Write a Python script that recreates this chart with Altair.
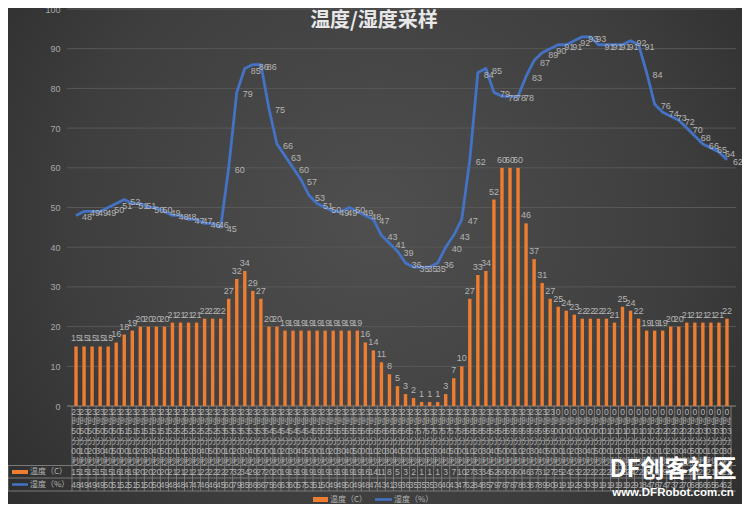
import altair as alt
import pandas as pd

time_labels = [
    "23时50分00秒", "23时50分10秒", "23时50分20秒", "23时50分30秒", "23时50分40秒", "23时50分50秒",
    "23时51分00秒", "23时51分10秒", "23时51分20秒", "23时51分30秒", "23时51分40秒", "23时51分50秒",
    "23时52分00秒", "23时52分10秒", "23时52分20秒", "23时52分30秒", "23时52分40秒", "23时52分50秒",
    "23时53分00秒", "23时53分10秒", "23时53分20秒", "23时53分30秒", "23时53分40秒", "23时53分50秒",
    "23时54分00秒", "23时54分10秒", "23时54分20秒", "23时54分30秒", "23时54分40秒", "23时54分50秒",
    "23时55分00秒", "23时55分10秒", "23时55分20秒", "23时55分30秒", "23时55分40秒", "23时55分50秒",
    "23时56分00秒", "23时56分10秒", "23时56分20秒", "23时56分30秒", "23时56分40秒", "23时56分50秒",
    "23时57分00秒", "23时57分10秒", "23时57分20秒", "23时57分30秒", "23时57分40秒", "23时57分50秒",
    "23时58分00秒", "23时58分10秒", "23时58分20秒", "23时58分30秒", "23时58分40秒", "23时58分50秒",
    "23时59分00秒", "23时59分10秒", "23时59分20秒", "23时59分30秒", "23时59分40秒", "23时59分50秒",
    "0时00分00秒", "0时00分10秒", "0时00分20秒", "0时00分30秒", "0时00分40秒", "0时00分50秒",
    "0时01分00秒", "0时01分10秒", "0时01分20秒", "0时01分30秒", "0时01分40秒", "0时01分50秒",
    "0时02分00秒", "0时02分10秒", "0时02分20秒", "0时02分30秒", "0时02分40秒", "0时02分50秒",
    "0时03分00秒", "0时03分10秒", "0时03分20秒", "0时03分30秒",
]

temperature = [15, 15, 15, 15, 15, 16, 18, 19, 20, 20, 20, 20, 21, 21, 21, 21, 22, 22, 22,
               27, 32, 34, 29, 27, 20, 20, 19, 19, 19, 19, 19, 19, 19, 19, 19, 19,
               16, 14, 11, 8, 5, 3, 2, 1, 1, 1, 3, 7, 10, 27, 33, 34, 52, 60, 60, 60,
               46, 37, 31, 27, 25, 24, 23, 22, 22, 22, 22, 21, 25, 24, 22, 19, 19, 19,
               20, 20, 21, 21, 21, 21, 21, 22]

humidity = [48, 49, 49, 49, 50, 51, 52, 51, 51, 50, 50, 49, 48, 48, 47, 47, 46, 46, 45,
            60, 79, 85, 86, 86, 75, 66, 63, 60, 57, 53, 51, 50, 49, 49, 50, 49, 48, 47,
            43, 41, 39, 36, 35, 35, 35, 36, 40, 43, 47,
            62, 84, 85, 79, 78, 78, 78, 83, 87, 89, 90, 91, 91, 92, 93, 93, 91, 91, 91,
            91, 92, 91, 84, 76, 74, 73, 72, 70, 68, 66, 65, 64, 62]

y_ticks = [0, 10, 20, 30, 40, 50, 60, 70, 80, 90, 100]
series_names = ["温度（C）", "湿度（%）"]
chart_title = "温度/湿度采样"

ORANGE = "#ED7D31"
BLUE = "#4472C4"
LABEL = "#b4b4b4"
GRID = "#585858"
TABLE = "#7a7a7a"

W, H = 669, 397
PL, PT, PR, PB = 59, 1, 6, 98
FONT = "Liberation Sans Narrow, Liberation Sans, Noto Sans CJK SC"
CJK = "Noto Sans CJK SC"

n = len(time_labels)
df = pd.DataFrame({
    "i": list(range(n)),
    "t": time_labels,
    "temp": temperature,
    "hum": humidity,
})


def split_label(s):
    h, rest = s.split("时")
    m, rest = rest.split("分")
    sec = rest.replace("秒", "")
    return "\n".join([h, "时", m, "分", sec, "秒"])


df["tt"] = df["t"].map(split_label)

edges = pd.DataFrame({"e": [k - 0.5 for k in range(n + 1)]})
grid_df = pd.DataFrame({"v": y_ticks})
one = pd.DataFrame({"k": [0]})

xsc = alt.Scale(domain=[-0.5, n - 0.5], nice=False, zero=False)
ysc = alt.Scale(domain=[0, 100], nice=False)
yax = alt.Axis(values=y_ticks, grid=False, domain=False, ticks=False, title=None,
               labelColor="#a8a8a8", labelFontSize=9, labelPadding=7, zindex=1,
               labelFont="Liberation Sans")
X = lambda f: alt.X(f, scale=xsc, axis=None)
Y = lambda f: alt.Y(f, scale=ysc, axis=yax)

bg = alt.Chart(one).mark_rect(
    fill=alt.Gradient(
        gradient="radial",
        stops=[alt.GradientStop(color="#4f4f4f", offset=0),
               alt.GradientStop(color="#3e3e3e", offset=0.55),
               alt.GradientStop(color="#262626", offset=1)],
        x1=0.5, y1=0.45, x2=0.5, y2=0.45, r1=0, r2=0.75),
).encode(x=alt.value(-PL), x2=alt.value(W + PR), y=alt.value(-PT), y2=alt.value(H + PB))

grid = alt.Chart(grid_df).mark_rule(color=GRID, strokeWidth=1).encode(
    y=Y("v:Q"), x=alt.value(0), x2=alt.value(W))

bars = alt.Chart(df).mark_bar(size=3.4, color=ORANGE).encode(x=X("i:Q"), y=Y("temp:Q"))
bar_lbl = alt.Chart(df).mark_text(color=LABEL, fontSize=9, font=FONT, dy=-8).encode(
    x=X("i:Q"), y=Y("temp:Q"), text="temp:Q")

line = alt.Chart(df).mark_line(color=BLUE, strokeWidth=2.8, strokeJoin="round").encode(
    x=X("i:Q"), y=Y("hum:Q"))
line_lbl = alt.Chart(df).mark_text(color=LABEL, fontSize=9, font=FONT, dx=11, dy=2).encode(
    x=X("i:Q"), y=Y("hum:Q"), text="hum:Q")

title = alt.Chart(one).mark_text(
    text=chart_title, color="#e8e8e8", fontSize=20, font=CJK, fontWeight="bold"
).encode(x=alt.value(307), y=alt.value(12))

# data table
cat_txt = alt.Chart(df).mark_text(
    color=LABEL, fontSize=8.5, font=FONT, baseline="top", lineBreak="\n", lineHeight=9.9
).encode(x=X("i:Q"), y=alt.value(H + 1.5), text="tt:N")
temp_row = alt.Chart(df).mark_text(color=LABEL, fontSize=8.5, font=FONT).encode(
    x=X("i:Q"), y=alt.value(H + 66), text="temp:Q")
hum_row = alt.Chart(df).mark_text(color=LABEL, fontSize=8.5, font=FONT).encode(
    x=X("i:Q"), y=alt.value(H + 78.5), text="hum:Q")

vlines = alt.Chart(edges).mark_rule(color=TABLE, strokeWidth=1).encode(
    x=X("e:Q"), y=alt.value(H), y2=alt.value(H + 85))
hl = []
for k in [H + 59.5, H + 72, H + 85]:
    hl.append(alt.Chart(one).mark_rule(color=TABLE, strokeWidth=1).encode(
        x=alt.value(-59), x2=alt.value(W), y=alt.value(k)))
hl.append(alt.Chart(one).mark_rule(color=TABLE, strokeWidth=1).encode(
    x=alt.value(-59), y=alt.value(H + 59.5), y2=alt.value(H + 85)))
hl.append(alt.Chart(one).mark_rule(color=TABLE, strokeWidth=1).encode(
    x=alt.value(0), x2=alt.value(W), y=alt.value(H)))

keys = [
    alt.Chart(one).mark_rule(color=ORANGE, strokeWidth=4).encode(
        x=alt.value(-55), x2=alt.value(-39), y=alt.value(H + 66)),
    alt.Chart(one).mark_rule(color=BLUE, strokeWidth=2.5).encode(
        x=alt.value(-55), x2=alt.value(-39), y=alt.value(H + 78.5)),
    alt.Chart(one).mark_text(text=series_names[0], color=LABEL, fontSize=8, font=CJK,
                             align="left").encode(x=alt.value(-37), y=alt.value(H + 66)),
    alt.Chart(one).mark_text(text=series_names[1], color=LABEL, fontSize=8, font=CJK,
                             align="left").encode(x=alt.value(-37), y=alt.value(H + 78.5)),
    # bottom legend
    alt.Chart(one).mark_rule(color=ORANGE, strokeWidth=5).encode(
        x=alt.value(246), x2=alt.value(261), y=alt.value(H + 93.5)),
    alt.Chart(one).mark_text(text=series_names[0], color=LABEL, fontSize=8, font=CJK,
                             align="left").encode(x=alt.value(263), y=alt.value(H + 93.5)),
    alt.Chart(one).mark_rule(color=BLUE, strokeWidth=2.5).encode(
        x=alt.value(308), x2=alt.value(325), y=alt.value(H + 93.5)),
    alt.Chart(one).mark_text(text=series_names[1], color=LABEL, fontSize=8, font=CJK,
                             align="left").encode(x=alt.value(327), y=alt.value(H + 93.5)),
]

watermark = [
    alt.Chart(one).mark_text(text="DF创客社区", color="#ffffff", fontSize=24, font=CJK,
                             fontWeight="bold").encode(x=alt.value(606), y=alt.value(H + 64)),
    alt.Chart(one).mark_text(text="www.DFRobot.com.cn", color="#ffffff", fontSize=11.5,
                             font="Liberation Sans", fontWeight="bold").encode(
        x=alt.value(606), y=alt.value(H + 87)),
]

chart = alt.layer(
    bg, grid, *hl, vlines, bars, bar_lbl, line, line_lbl, title,
    cat_txt, temp_row, hum_row, *keys, *watermark
).properties(
    width=W, height=H,
    padding={"left": PL, "top": PT, "right": PR, "bottom": PB},
    autosize=alt.AutoSizeParams(type="none"),
    background="#2e2e2e",
).configure_view(stroke=None)

chart.save("out.html", embed_options={"renderer": "svg", "actions": False})
